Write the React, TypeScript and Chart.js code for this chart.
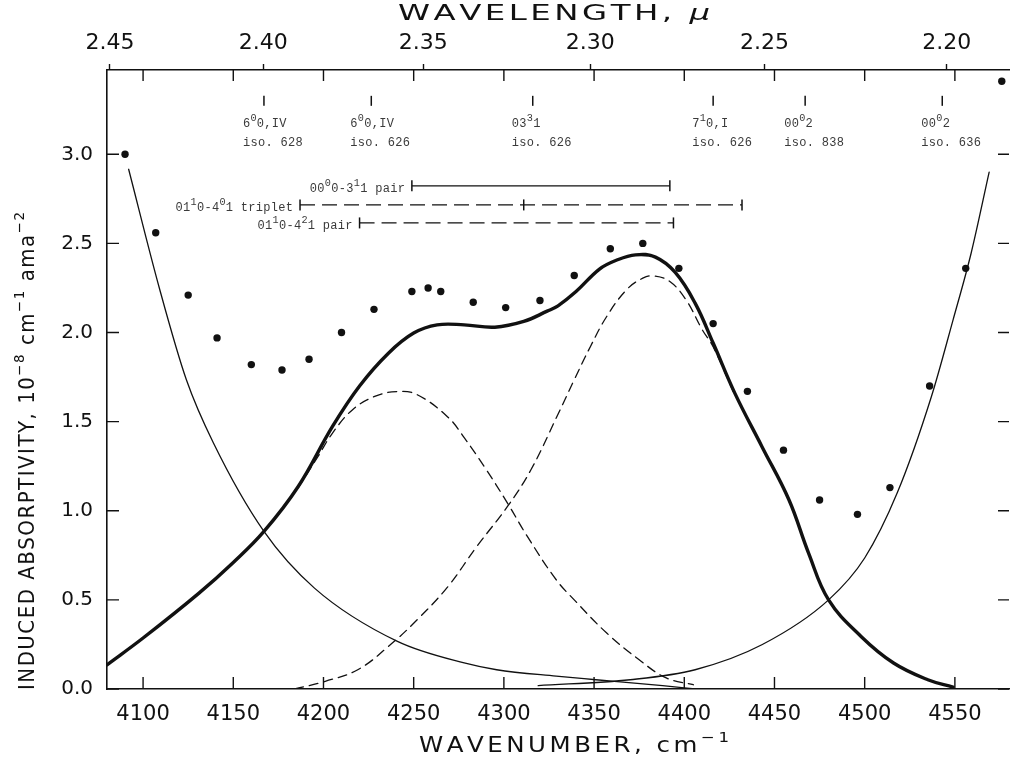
import React, { useEffect, useRef } from "react";
import { Chart, registerables } from "chart.js";

Chart.register(...registerables);

// ---------- axes ----------
const X_MIN = 4080;
const X_MAX = 4580;
const Y_MIN = 0;
const Y_MAX = 3.473;
const X_TICKS = [4100, 4150, 4200, 4250, 4300, 4350, 4400, 4450, 4500, 4550];
const Y_TICKS = [0, 0.5, 1.0, 1.5, 2.0, 2.5, 3.0];
const WL_TICKS = [2.45, 2.4, 2.35, 2.3, 2.25, 2.2];

// ---------- measured points ----------
const DOT_X = [4090, 4107, 4125, 4141, 4160, 4177, 4192, 4210, 4228, 4249, 4258, 4265, 4283, 4301, 4320, 4339, 4359, 4377, 4397, 4416, 4435, 4455, 4475, 4496, 4514, 4536, 4556, 4576];
const DOT_Y = [3.0, 2.56, 2.21, 1.97, 1.82, 1.79, 1.85, 2.0, 2.13, 2.23, 2.25, 2.23, 2.17, 2.14, 2.18, 2.32, 2.47, 2.5, 2.36, 2.05, 1.67, 1.34, 1.06, 0.98, 1.13, 1.7, 2.36, 3.41];

// ---------- total (thick) curve ----------
const TOTAL_X = [4080, 4100, 4131, 4150, 4167, 4186, 4205, 4220, 4236, 4250, 4263, 4278, 4295, 4311, 4324, 4330, 4340, 4353, 4362, 4373, 4384, 4395, 4406, 4416, 4428, 4443, 4458, 4469, 4480, 4498, 4516, 4535, 4549];
const TOTAL_Y = [0.136, 0.286, 0.538, 0.71, 0.884, 1.136, 1.473, 1.7, 1.884, 1.997, 2.043, 2.043, 2.03, 2.062, 2.12, 2.15, 2.23, 2.356, 2.404, 2.436, 2.423, 2.337, 2.165, 1.941, 1.66, 1.361, 1.062, 0.76, 0.5, 0.295, 0.146, 0.052, 0.011];

// ---------- thin wing curves ----------
const THIN_L_X = [4092, 4109, 4124, 4139, 4167, 4195, 4241, 4278, 4296, 4329, 4351, 4388, 4406];
const THIN_L_Y = [2.916, 2.25, 1.735, 1.38, 0.884, 0.566, 0.267, 0.146, 0.108, 0.072, 0.052, 0.019, 0.0];
const THIN_R_X = [4319, 4370, 4406, 4443, 4480, 4500, 4518, 4537, 4549, 4559, 4569];
const THIN_R_Y = [0.019, 0.052, 0.108, 0.248, 0.5, 0.735, 1.099, 1.641, 2.071, 2.445, 2.9];

// ---------- dashed component curves ----------
const DASH_L_X = [4186, 4197, 4205, 4216, 4228, 4241, 4252, 4269, 4278, 4289, 4302, 4313, 4329, 4339, 4357, 4375, 4390, 4405];
const DASH_L_Y = [1.13, 1.305, 1.436, 1.566, 1.64, 1.669, 1.651, 1.525, 1.41, 1.25, 1.043, 0.856, 0.613, 0.5, 0.314, 0.164, 0.062, 0.024];
const DASH_R_X = [4184, 4201, 4219, 4236, 4252, 4269, 4285, 4302, 4315, 4329, 4339, 4348, 4357, 4368, 4377, 4383, 4392, 4401, 4410, 4416, 4428];
const DASH_R_Y = [0.0, 0.043, 0.108, 0.239, 0.389, 0.575, 0.8, 1.024, 1.23, 1.52, 1.735, 1.922, 2.09, 2.24, 2.305, 2.318, 2.286, 2.183, 2.015, 1.92, 1.65];

// ---------- band markers ----------
const BAND_X = [4167, 4226.5, 4316, 4416, 4467, 4543];
const BAND_MARK_Y = 3.3;
const BAND_LINE1 = ["6{0}0,IV", "6{0}0,IV", "03{3}1", "7{1}0,I", "00{0}2", "00{0}2"];
const BAND_LINE2 = ["iso. 628", "iso. 626", "iso. 626", "iso. 626", "iso. 838", "iso. 636"];

// ---------- range bars ----------
const BAR_LABELS = ["00{0}0-3{1}1 pair", "01{1}0-4{0}1 triplet", "01{1}0-4{2}1 pair"];
const BAR_START = [4249, 4187, 4220];
const BAR_END = [4392, 4432, 4394];
const BAR_Y = [2.823, 2.716, 2.615];
const BAR_DASHED = [false, true, true];
const TRIPLET_MID = 4311;

// ---------- titles ----------
const TITLE_X = "WAVENUMBER, cm{\u22121}";
const TITLE_TOP = "WAVELENGTH, [\u03bc]";
const TITLE_Y = "INDUCED ABSORPTIVITY, 10{\u22128} cm{\u22121} ama{\u22122}";

const INK = "#111";
const SANS = "'DejaVu Sans', sans-serif";
const MONO = "'Liberation Mono', monospace";

type Seg = { t: string; sup: boolean; it: boolean };
function parseRich(s: string): Seg[] {
  const out: Seg[] = [];
  const re = /\{([^}]*)\}|\[([^\]]*)\]|([^{\[]+)/g;
  let m: RegExpExecArray | null;
  while ((m = re.exec(s))) {
    if (m[1] !== undefined) out.push({ t: m[1], sup: true, it: false });
    else if (m[2] !== undefined) out.push({ t: m[2], sup: false, it: true });
    else out.push({ t: m[3], sup: false, it: false });
  }
  return out;
}

// Draws text with superscripts; when fitWidth is given, glyphs are stretched
// horizontally (keeping `spacing` between glyphs) so the line spans fitWidth.
function drawRich(
  ctx: CanvasRenderingContext2D,
  s: string,
  x: number,
  y: number,
  size: number,
  family: string,
  align: "left" | "center" | "right",
  spacing: number,
  fitWidth?: number,
  supScale = 0.68,
  supRise = 0.42
) {
  const segs = parseRich(s);
  const fontFor = (g: Seg) => `${g.it ? "italic " : ""}${g.sup ? size * supScale : size}px ${family}`;
  const items: { ch: string; g: Seg; cw: number }[] = [];
  let natural = 0;
  for (const g of segs) {
    ctx.font = fontFor(g);
    for (const ch of g.t) {
      const cw = ctx.measureText(ch).width;
      items.push({ ch, g, cw });
      natural += cw;
    }
  }
  const gaps = Math.max(items.length - 1, 0);
  let stretch = 1;
  if (fitWidth !== undefined && natural > 0) stretch = (fitWidth - spacing * gaps) / natural;
  const w = natural * stretch + spacing * gaps;
  let cx = align === "left" ? x : align === "right" ? x - w : x - w / 2;
  ctx.textBaseline = "middle";
  ctx.textAlign = "left";
  for (const it of items) {
    ctx.font = fontFor(it.g);
    ctx.save();
    ctx.translate(cx, it.g.sup ? y - size * supRise : y);
    ctx.scale(stretch, 1);
    ctx.fillText(it.ch, 0, 0);
    ctx.restore();
    cx += it.cw * stretch + spacing;
  }
}

const decorPlugin = {
  id: "decor",
  afterDraw(chart: any) {
    const ctx: CanvasRenderingContext2D = chart.ctx;
    const xs = chart.scales.x;
    const ys = chart.scales.y;
    const { left, right, top, bottom } = chart.chartArea;
    ctx.save();
    ctx.strokeStyle = INK;
    ctx.lineWidth = 1.4;
    ctx.beginPath();
    for (const v of X_TICKS) {
      const px = xs.getPixelForValue(v);
      ctx.moveTo(px, bottom);
      ctx.lineTo(px, bottom - 12);
      ctx.moveTo(px, top);
      ctx.lineTo(px, top + 11);
    }
    for (const v of Y_TICKS) {
      const py = ys.getPixelForValue(v);
      ctx.moveTo(left, py);
      ctx.lineTo(left + 12, py);
      ctx.moveTo(right, py);
      ctx.lineTo(right - 11, py);
    }
    ctx.stroke();

    ctx.fillStyle = INK;
    // axis titles
    drawRich(ctx, TITLE_X, 574, 747, 21, SANS, "center", 3.5, 310);
    drawRich(ctx, TITLE_TOP, 554, 15, 21, SANS, "center", 3.5, 312);
    ctx.save();
    ctx.translate(29, 451);
    ctx.rotate(-Math.PI / 2);
    drawRich(ctx, TITLE_Y, 0, 0, 21, SANS, "center", 1.5, 478);
    ctx.restore();

    // band labels
    ctx.fillStyle = "#3a3a3a";
    BAND_X.forEach((b, i) => {
      const px = xs.getPixelForValue(b) - 21;
      drawRich(ctx, BAND_LINE1[i], px, 124, 12, MONO, "left", 0.3, undefined, 0.85, 0.5);
      drawRich(ctx, BAND_LINE2[i], px, 143, 12, MONO, "left", 0.3, undefined, 0.85, 0.5);
    });
    BAR_LABELS.forEach((t, i) => {
      const px = xs.getPixelForValue(BAR_START[i]) - 7;
      const py = ys.getPixelForValue(BAR_Y[i]) + 3;
      drawRich(ctx, t, px, py, 12, MONO, "right", 0.3, undefined, 0.85, 0.5);
    });
    ctx.restore();
  },
};

function pts(xa: number[], ya: number[]) {
  return xa.map((x, i) => ({ x, y: ya[i] }));
}

export default function App() {
  const ref = useRef<HTMLCanvasElement | null>(null);
  useEffect(() => {
    if (!ref.current) return;
    const curve = (data: any[], width: number, dash: number[] = [], monotone = false) => ({
      data,
      showLine: true,
      borderColor: INK,
      borderWidth: width,
      borderDash: dash,
      pointRadius: 0,
      tension: 0.4,
      cubicInterpolationMode: monotone ? "monotone" : "default",
      borderCapStyle: "round",
      borderJoinStyle: "round",
      fill: false,
    });
    const bars = BAR_LABELS.map((_, i) => {
      const xsArr = i === 1 ? [BAR_START[i], TRIPLET_MID, BAR_END[i]] : [BAR_START[i], BAR_END[i]];
      return {
        data: xsArr.map((x) => ({ x, y: BAR_Y[i] })),
        showLine: true,
        borderColor: INK,
        borderWidth: 1.3,
        borderDash: BAR_DASHED[i] ? [15, 7] : [],
        tension: 0,
        pointStyle: "line",
        rotation: 90,
        pointRadius: 5.5,
        pointBorderWidth: 1.5,
        pointBorderColor: INK,
        pointBackgroundColor: INK,
      };
    });
    const chart = new Chart(ref.current, {
      type: "scatter",
      data: {
        datasets: [
          curve(pts(TOTAL_X, TOTAL_Y), 3.4),
          curve(pts(THIN_L_X, THIN_L_Y), 1.3, [], true),
          curve(pts(THIN_R_X, THIN_R_Y), 1.3, [], true),
          curve(pts(DASH_L_X, DASH_L_Y), 1.3, [9, 6]),
          curve(pts(DASH_R_X, DASH_R_Y), 1.3, [9, 6]),
          {
            data: pts(DOT_X, DOT_Y),
            showLine: false,
            pointRadius: 3.7,
            pointBackgroundColor: INK,
            pointBorderWidth: 0,
            pointBorderColor: INK,
          },
          ...bars,
          {
            data: BAND_X.map((x) => ({ x, y: BAND_MARK_Y })),
            showLine: false,
            pointStyle: "line",
            rotation: 90,
            pointRadius: 5,
            pointBorderWidth: 1.5,
            pointBorderColor: INK,
          },
        ] as any,
      },
      options: {
        animation: false,
        responsive: false,
        events: [],
        layout: { padding: 0 },
        plugins: { legend: { display: false }, tooltip: { enabled: false }, title: { display: false } },
        scales: {
          x: {
            type: "linear",
            position: "bottom",
            min: X_MIN,
            max: X_MAX,
            afterBuildTicks: (s: any) => {
              s.ticks = X_TICKS.map((value) => ({ value }));
            },
            afterFit: (s: any) => {
              s.height = 72;
            },
            grid: { drawOnChartArea: false, drawTicks: false },
            border: { display: true, color: INK, width: 1.6 },
            ticks: {
              autoSkip: false,
              maxRotation: 0,
              padding: 13,
              color: INK,
              font: { family: SANS, size: 21 },
              callback: (v: any) => String(v),
            },
          },
          xTop: {
            axis: "x",
            type: "linear",
            position: "top",
            min: X_MIN,
            max: X_MAX,
            afterBuildTicks: (s: any) => {
              s.ticks = WL_TICKS.map((w) => ({ value: 10000 / w }));
            },
            afterFit: (s: any) => {
              s.height = 70;
            },
            grid: { drawOnChartArea: false, drawTicks: true, tickLength: 6, tickWidth: 1.4, color: INK },
            border: { display: true, color: INK, width: 1.6 },
            ticks: {
              autoSkip: false,
              maxRotation: 0,
              padding: 8,
              color: INK,
              font: { family: SANS, size: 22 },
              callback: (v: any) => (10000 / Number(v)).toFixed(2),
            },
          },
          y: {
            type: "linear",
            position: "left",
            min: Y_MIN,
            max: Y_MAX,
            afterBuildTicks: (s: any) => {
              s.ticks = Y_TICKS.map((value) => ({ value }));
            },
            afterFit: (s: any) => {
              s.width = 107;
            },
            grid: { drawOnChartArea: false, drawTicks: false },
            border: { display: true, color: INK, width: 1.6 },
            ticks: {
              padding: 14,
              color: INK,
              font: { family: SANS, size: 20 },
              callback: (v: any) => Number(v).toFixed(1),
            },
          },
        },
      } as any,
      plugins: [decorPlugin],
    });
    return () => chart.destroy();
  }, []);

  return (
    <div
      style={{
        position: "fixed",
        left: 0,
        top: 0,
        width: 1014,
        height: 761,
        overflow: "hidden",
        background: "#fff",
      }}
    >
      <canvas ref={ref} width={1016} height={761} style={{ display: "block" }} />
    </div>
  );
}
